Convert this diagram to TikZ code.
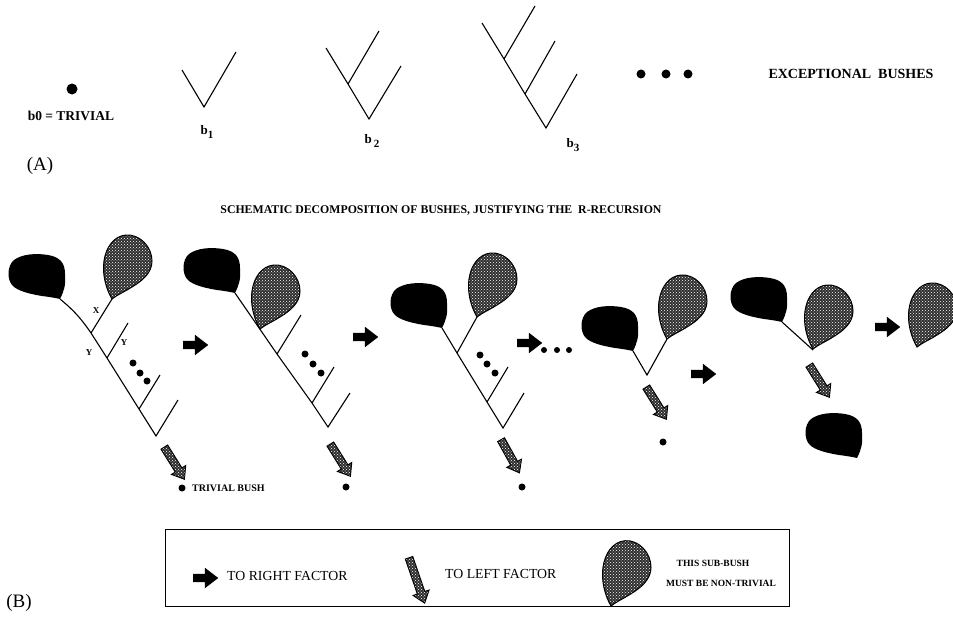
\documentclass[tikz,border=0pt]{standalone}
\usepackage{fontspec}
\setmainfont{Liberation Serif}
\usetikzlibrary{shapes.arrows,patterns}
\tikzset{twig/.style={line width=1.1pt},dot/.style={circle,fill,inner sep=0pt,minimum size=7pt},nil/.style={inner sep=1pt}}
\tikzset{stipple/.style={preaction={fill=black!82},pattern=crosshatch dots,pattern color=white}}
\tikzset{rarr/.style={single arrow,fill=black,inner xsep=0pt,inner ysep=4pt,single arrow head extend=6pt,single arrow tip angle=75,minimum height=25pt}}
\tikzset{larr/.style={single arrow,draw,line width=.9pt,stipple,inner xsep=0pt,inner ysep=3.5pt,single arrow head extend=4.5pt,single arrow tip angle=75,minimum height=38pt,rotate=-58}}
\tikzset{leftbush/.pic={\fill (0,0) .. controls (4,-8) and (6,-14) .. (5,-25) .. controls (5,-36) and (0,-42) .. (-12,-44)
      .. controls (-24,-46) and (-38,-45) .. (-46,-39) .. controls (-53,-33) and (-53,-20) .. (-48,-14)
      .. controls (-43,-8) and (-30,-5) .. (-18,-3) .. controls (-10,-2) and (-4,-1) .. (0,0) -- cycle;},
  rightbush/.pic={\draw[line width=1pt,stipple] (0,0) .. controls (-6,-10) and (-10,-25) .. (-8,-38)
      .. controls (-6,-52) and (2,-63) .. (14,-64) .. controls (28,-65) and (40,-52) .. (40,-38)
      .. controls (40,-26) and (30,-18) .. (20,-12) .. controls (12,-7) and (5,-4) .. (0,0) -- cycle;}}
\tikzset{lbl/.style={inner sep=0pt,font=\bfseries\fontsize{13}{15}\selectfont},captxt/.style={inner sep=0pt,font=\fontsize{13.8}{16}\selectfont}}
\newcommand{\lowix}[1]{\raisebox{-4pt}{\fontsize{11}{12}\selectfont#1}}

\begin{document}
\begin{tikzpicture}[x=1pt,y=-1pt]
      \useasboundingbox (0,0) rectangle (953,618);
      % exceptional bushes
      \node[dot,minimum size=11pt] (b0) at (72,89) {};
      \node[lbl,font=\bfseries\fontsize{13.5}{15}\selectfont] (t0) at (71,116) {b0 = TRIVIAL};
      \coordinate (a1) at (182,70); \coordinate (a0) at (204,107); \coordinate (a2) at (236,52);
      \draw[twig] (a1) -- (a0) -- (a2);
      \node[lbl] (l1) at (207,132) {b\lowix{1}};
      \coordinate (c0) at (369,119); \coordinate (c1) at (348,84); \coordinate (c2) at (326,48);
      \coordinate (c3) at (379,31); \coordinate (c4) at (401,66);
      \draw[twig] (c2) -- (c1) -- (c0) -- (c4) (c1) -- (c3);
      \node[lbl] (l2) at (372,141) {b\,\lowix{2}};
      \coordinate (e0) at (546,128); \coordinate (e1) at (525,94); \coordinate (e2) at (504,59);
      \coordinate (e3) at (482,23); \coordinate (e4) at (535,6); \coordinate (e5) at (555,41); \coordinate (e6) at (577,74);
      \draw[twig] (e3) -- (e2) -- (e1) -- (e0) -- (e6) (e2) -- (e4) (e1) -- (e5);
      \node[lbl] (l3) at (573,145) {b\lowix{3}};
      \foreach \x [count=\i] in {641,666,688} \node[dot,minimum size=9pt] (x\i) at (\x,74) {};
      \node[lbl,font=\bfseries\fontsize{14}{16}\selectfont] (ex) at (851,74) {EXCEPTIONAL\ \ BUSHES};
      \node[inner sep=0pt,font=\fontsize{19}{21}\selectfont] (pa) at (40,166) {(A)};
      \node[inner sep=0pt,font=\bfseries\fontsize{11.8}{13}\selectfont] (ttl) at (441,211) {SCHEMATIC DECOMPOSITION OF BUSHES, JUSTIFYING THE\ \ R-RECURSION};
      % first step
      \pic at (60,299) {leftbush}; \pic at (112,299) {rightbush};
      \coordinate (k1) at (60,299); \coordinate (h1) at (112,299);
      \coordinate (j11) at (91,333); \coordinate (j12) at (107,358); \coordinate (j13) at (139,409); \coordinate (r1) at (156,436);
      \coordinate (t12) at (128,323); \coordinate (t13) at (160,375); \coordinate (t14) at (178,400);
      \draw[twig] (k1) to[bend left=8] (j11) -- (j12) -- (j13) -- (r1) -- (t14)
      (j11) -- (h1) (j12) -- (t12) (j13) -- (t13);
      \node[lbl,font=\bfseries\fontsize{9}{10}\selectfont] (lx) at (96,311) {X};
      \node[lbl,font=\bfseries\fontsize{9}{10}\selectfont] (ly1) at (89,353) {Y};
      \node[lbl,font=\bfseries\fontsize{9}{10}\selectfont] (ly2) at (124,343) {Y};
      \foreach \x/\y [count=\i] in {133/363,140/373,147/381} \node[dot] (u\i) at (\x,\y) {};
      \node[larr] (d1) at (173,461) {};
      \node[dot] (z1) at (182,488) {};
      \node[lbl,anchor=west,font=\bfseries\fontsize{10}{12}\selectfont] (tb) at (192,488) {TRIVIAL BUSH};
      \node[rarr] (s1) at (193,345) {};
      % second step
      \pic at (235,293) {leftbush}; \pic at (260,329) {rightbush};
      \coordinate (k2) at (235,293); \coordinate (j21) at (277,354); \coordinate (j22) at (312,403); \coordinate (r2) at (328,427);
      \coordinate (t21) at (301,315); \coordinate (t22) at (334,367); \coordinate (t23) at (350,393);
      \draw[twig] (k2) -- (j21) -- (j22) -- (r2) -- (t23) (j21) -- (t21) (j22) -- (t22);
      \foreach \x/\y [count=\i] in {305/354,313/364,321/373} \node[dot] (v\i) at (\x,\y) {};
      \node[larr] (d2) at (339,458) {};
      \node[dot] (z2) at (346,487) {};
      \node[rarr] (s2) at (363,337) {};
      % third step
      \pic at (442,328) {leftbush}; \pic at (477,317) {rightbush};
      \coordinate (k3) at (442,328); \coordinate (h3) at (477,317);
      \coordinate (j31) at (457,353); \coordinate (j32) at (487,402); \coordinate (r3) at (503,428);
      \coordinate (t32) at (508,367); \coordinate (t33) at (524,393);
      \draw[twig] (k3) -- (j31) -- (j32) -- (r3) -- (t33) (j31) -- (h3) (j32) -- (t32);
      \foreach \x/\y [count=\i] in {480/355,487/364,495/373} \node[dot] (w\i) at (\x,\y) {};
      \node[larr,rotate=-3] (d3) at (509,454) {};
      \node[dot] (z3) at (522,487) {};
      \node[rarr] (s3) at (527,343) {};
      \foreach \x [count=\i] in {544,557,569} \node[dot,minimum size=6pt] (g\i) at (\x,350) {};
      % fourth step
      \pic at (633,351) {leftbush}; \pic at (667,339) {rightbush};
      \coordinate (k4) at (633,351); \coordinate (r4) at (647,375); \coordinate (h4) at (667,339);
      \draw[twig] (k4) -- (r4) -- (h4);
      \node[larr] (d4) at (655,401) {};
      \node[dot] (z4) at (663,442) {};
      \node[rarr] (s4) at (701,374) {};
      % fifth step
      \pic at (782,322) {leftbush}; \pic at (813,349) {rightbush};
      \coordinate (k5) at (782,322); \coordinate (r5) at (813,350);
      \draw[twig] (k5) -- (r5);
      \node[larr] (d5) at (818,379) {};
      \pic at (857,458) {leftbush};
      \node[rarr] (s5) at (885,327) {};
      \pic at (917,347) {rightbush};
      % legend
      \node[draw,line width=.8pt,minimum width=624pt,minimum height=77pt,inner sep=0pt] (key) at (477,567.5) {};
      \node[rarr] (ks) at (203,578) {};
      \node[captxt,anchor=west] (kr) at (227,576) {TO RIGHT FACTOR};
      \node[larr,rotate=-13,minimum height=48pt] (kd) at (416,578) {};
      \node[captxt,anchor=west] (kl) at (445,574) {TO LEFT FACTOR};
      \pic[yscale=1.02] at (611,606) {rightbush};
      \node[lbl,font=\bfseries\fontsize{9.5}{11}\selectfont] (kn1) at (713,563) {THIS\ SUB-BUSH};
      \node[lbl,font=\bfseries\fontsize{9.5}{11}\selectfont] (kn2) at (721,583) {MUST BE NON-TRIVIAL};
      \node[inner sep=0pt,font=\fontsize{19}{21}\selectfont] (pb) at (19,603) {(B)};
\end{tikzpicture}
\end{document}
